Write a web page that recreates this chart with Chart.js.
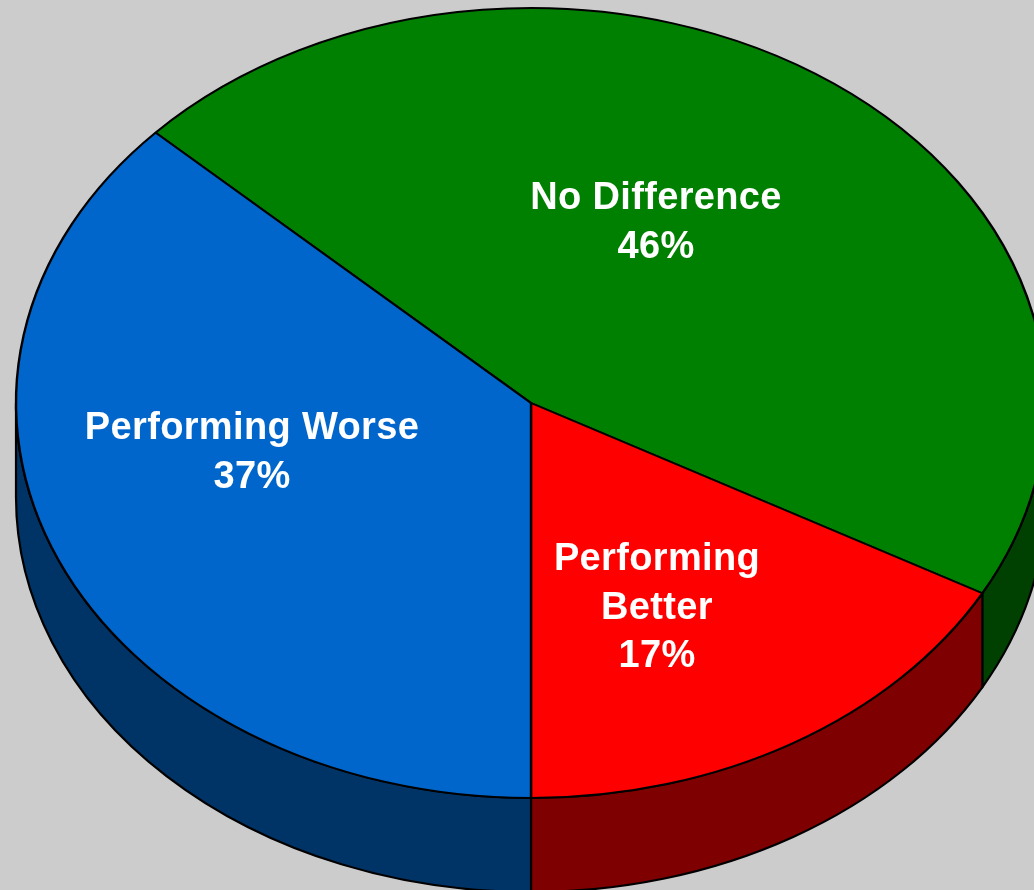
<!DOCTYPE html>
<html>
<head>
<meta charset="utf-8">
<style>
html,body{margin:0;padding:0;background:#CCCCCC;overflow:hidden}
canvas{display:block}
</style>
<script src="https://cdn.jsdelivr.net/npm/chart.js@4"></script>
</head>
<body>
<canvas id="c" width="1034" height="890"></canvas>
<script>
const categories = ['No Difference', 'Performing Better', 'Performing Worse'];
const values = [46, 17, 37];
const topColors = ['#008000', '#FF0000', '#0066CC'];
const sideColors = ['#004000', '#7F0000', '#003366'];
const labelLines = [['No Difference', '46%'], ['Performing', 'Better', '17%'], ['Performing Worse', '37%']];

const CX = 531, CY = 403, RADIUS = 515, TILT = 0.767, DEPTH = 94;
const labelAnchors = [[656, 209], [657, 570], [252, 439]];
const LINE_H = 48.5;

const pie3d = {
  id: 'pie3d',
  beforeDatasetsDraw(chart) {
    const ctx = chart.ctx;
    const arcs = chart.getDatasetMeta(0).data;
    const rx = RADIUS, ry = RADIUS * TILT;
    ctx.save();
    ctx.lineWidth = 2.2;
    ctx.strokeStyle = '#000';
    ctx.lineJoin = 'round';
    arcs.forEach((el, i) => {
      [0, 2 * Math.PI, -2 * Math.PI].forEach(shift => {
        const a = Math.max(el.startAngle, shift);
        const b = Math.min(el.endAngle, shift + Math.PI);
        if (b <= a) return;
        ctx.beginPath();
        ctx.ellipse(CX, CY, rx, ry, 0, a, b);
        ctx.ellipse(CX, CY + DEPTH, rx, ry, 0, b, a, true);
        ctx.closePath();
        ctx.fillStyle = sideColors[i];
        ctx.fill();
        ctx.stroke();
      });
    });
    ctx.restore();
    const first = arcs[0];
    ctx.save();
    ctx.translate(CX, CY);
    ctx.scale(1, TILT);
    ctx.translate(-first.x, -first.y);
  },
  afterDatasetsDraw(chart) {
    const ctx = chart.ctx;
    ctx.restore();
    ctx.save();
    ctx.fillStyle = '#FFFFFF';
    ctx.font = 'bold 38px "Liberation Sans", Arial, sans-serif';
    ctx.letterSpacing = '0.35px';
    ctx.textAlign = 'center';
    ctx.textBaseline = 'alphabetic';
    labelLines.forEach((lines, i) => {
      lines.forEach((t, j) => {
        ctx.fillText(t, labelAnchors[i][0], labelAnchors[i][1] + j * LINE_H);
      });
    });
    ctx.restore();
  }
};

new Chart(document.getElementById('c'), {
  type: 'pie',
  data: {
    labels: categories,
    datasets: [{
      data: values,
      backgroundColor: topColors,
      borderColor: '#000000',
      borderWidth: 2.4,
      clip: false
    }]
  },
  options: {
    responsive: false,
    animation: false,
    radius: RADIUS,
    rotation: -46.8,
    events: [],
    layout: { padding: 0 },
    plugins: { legend: { display: false }, tooltip: { enabled: false }, title: { display: false } }
  },
  plugins: [pie3d]
});
</script>
</body>
</html>
